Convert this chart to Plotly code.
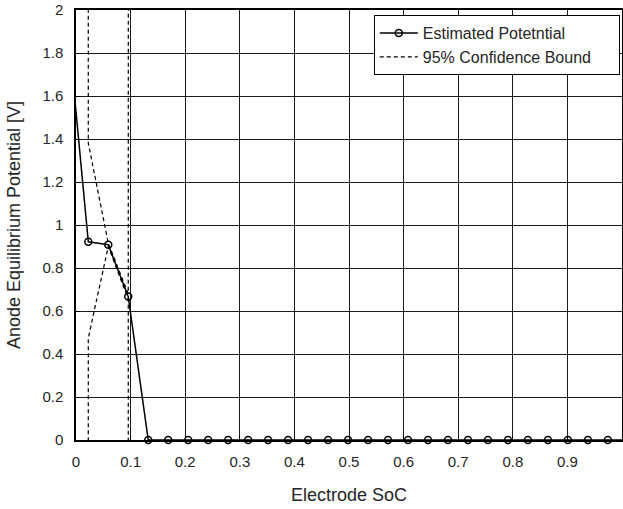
import plotly.graph_objects as go

# ---- data ----
soc = [-0.0141, 0.0225, 0.0591, 0.0957, 0.1323, 0.1689, 0.2055, 0.2421, 0.2787,
       0.3153, 0.3519, 0.3885, 0.4251, 0.4617, 0.4983, 0.5349, 0.5715, 0.6081,
       0.6447, 0.6813, 0.7179, 0.7545, 0.7911, 0.8277, 0.8643, 0.9009, 0.9375,
       0.9741, 1.0107]
potential = [1.906, 0.922, 0.908, 0.667] + [0.0] * 25
upper_bound = [500.0, 1.381, 0.915, 0.68, 500.0] + [None] * 24
lower_bound = [-500.0, 0.474, 0.90, 0.655, -500.0] + [None] * 24

x_tickvals = [0, 0.1, 0.2, 0.3, 0.4, 0.5, 0.6, 0.7, 0.8, 0.9, 1]
x_ticktext = ["0", "0.1", "0.2", "0.3", "0.4", "0.5", "0.6", "0.7", "0.8", "0.9", "1"]
y_tickvals = [0, 0.2, 0.4, 0.6, 0.8, 1, 1.2, 1.4, 1.6, 1.8, 2]
y_ticktext = ["0", "0.2", "0.4", "0.6", "0.8", "1", "1.2", "1.4", "1.6", "1.8", "2"]

FONT = "Liberation Sans, Arial, sans-serif"
TXT = "#262626"
DASH = "4px,3px"
PAD = "\u00a0" * 5  # invisible right padding inside the legend box

fig = go.Figure()
fig.add_trace(go.Scatter(
    x=soc, y=potential, mode="lines+markers", name="Estimated Potetntial",
    line=dict(color="black", width=1.5),
    marker=dict(symbol="circle-open", size=7, color="black", line=dict(width=1.5)),
    cliponaxis=False,
))
fig.add_trace(go.Scatter(
    x=soc, y=upper_bound, mode="lines", name="95% Confidence Bound" + PAD,
    line=dict(color="black", width=1.2, dash=DASH), connectgaps=False,
))
fig.add_trace(go.Scatter(
    x=soc, y=lower_bound, mode="lines", name="lower", showlegend=False,
    line=dict(color="black", width=1.2, dash=DASH), connectgaps=False,
))

axis_common = dict(
    showgrid=True, gridcolor="#1a1a1a", gridwidth=1,
    showline=True, linecolor="black", linewidth=1.5, mirror=True,
    ticks="inside", ticklen=4, tickcolor="black",
    zeroline=False, automargin=False,
    tickfont=dict(family=FONT, size=15, color=TXT),
)

fig.update_layout(
    width=623, height=509,
    margin=dict(l=76, r=1, t=10, b=69),
    paper_bgcolor="white", plot_bgcolor="white",
    font=dict(family=FONT, size=15, color=TXT),
    xaxis=dict(range=[0, 1], tickvals=x_tickvals, ticktext=x_ticktext,
               title=dict(text="Electrode SoC", font=dict(family=FONT, size=18, color=TXT), standoff=20),
               ticklabelstandoff=7, **axis_common),
    yaxis=dict(range=[0, 2], tickvals=y_tickvals, ticktext=y_ticktext,
               title=dict(text="Anode Equilibrium Potential [V]", font=dict(family=FONT, size=18, color=TXT), standoff=17),
               ticklabelstandoff=8, **axis_common),
    legend=dict(x=0.996, y=0.988, xanchor="right", yanchor="top",
                bgcolor="white", bordercolor="black", borderwidth=1,
                font=dict(family=FONT, size=16, color=TXT),
                tracegroupgap=0, itemwidth=38),
    showlegend=True,
)

# remove the browser's default 8px body margin so the figure fills the window
fig.write_html(
    "out.html",
    config={"displayModeBar": False},
    post_script="document.body.style.margin='0';document.body.style.overflow='hidden';",
)
